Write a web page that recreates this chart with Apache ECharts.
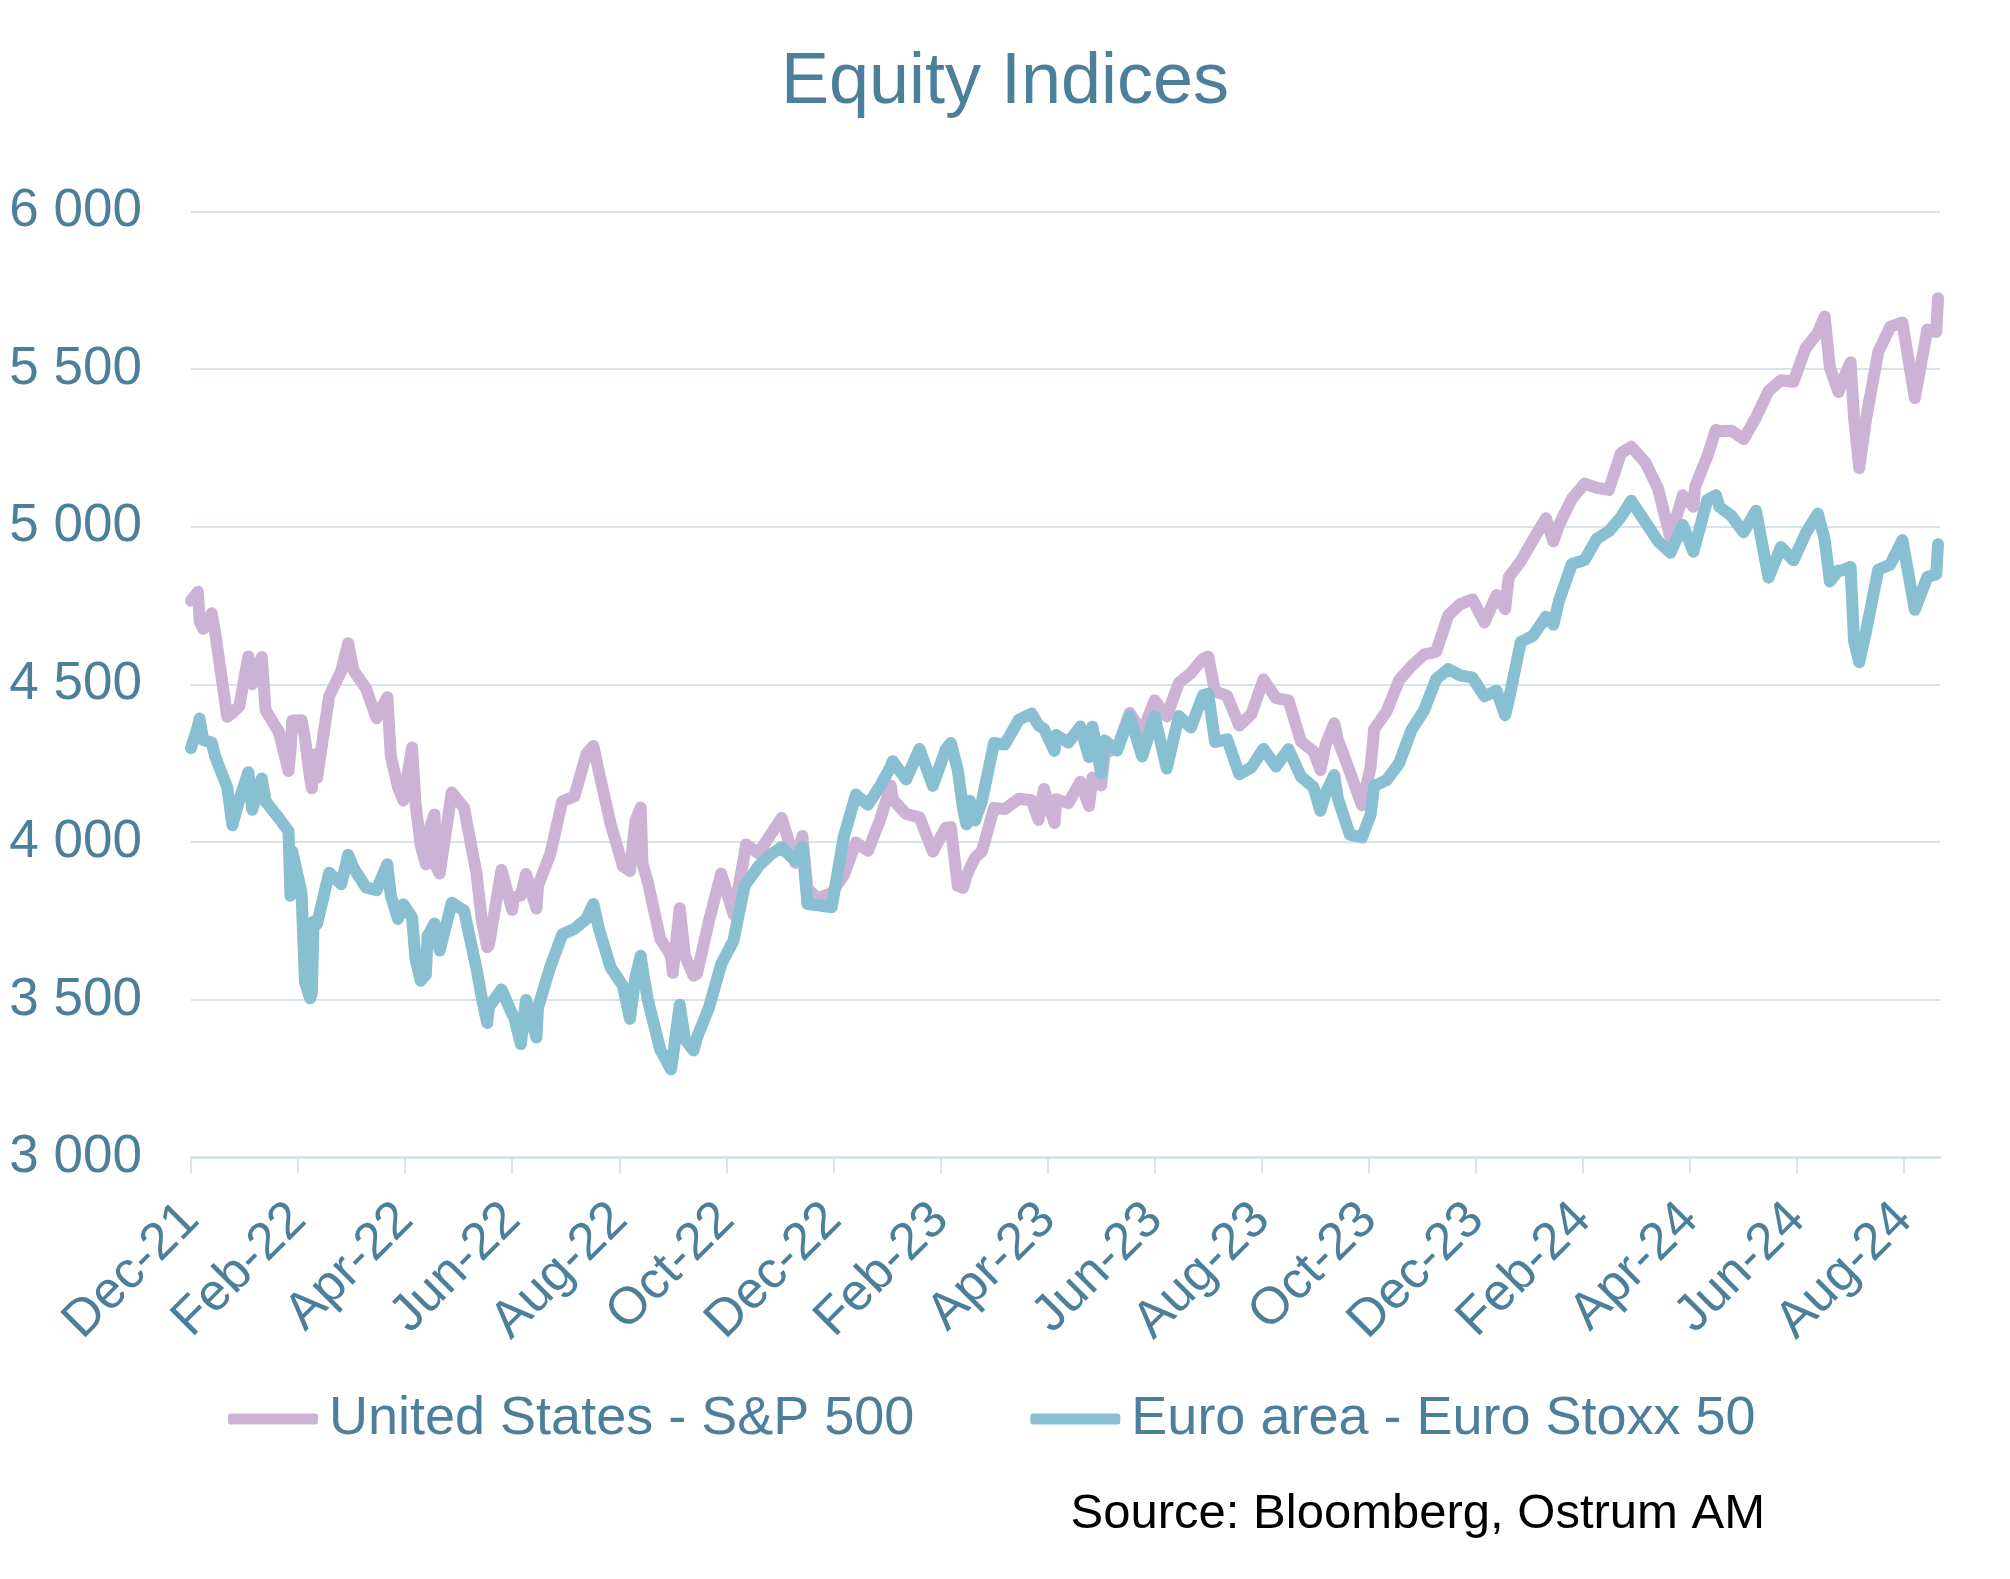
<!DOCTYPE html>
<html>
<head>
<meta charset="utf-8">
<script src="https://cdn.jsdelivr.net/npm/echarts@6/dist/echarts.min.js"></script>
<style>
html,body{margin:0;padding:0;background:#fff;}
#chart{width:2010px;height:1579px;}
</style>
</head>
<body>
<div id="chart"></div>
<script>
// ---- DATA ----
const dates = [
'2021-12-31','2022-01-04','2022-01-05','2022-01-07','2022-01-12','2022-01-14','2022-01-21','2022-01-24','2022-01-28',
'2022-02-02','2022-02-04','2022-02-09','2022-02-11','2022-02-18','2022-02-23','2022-02-24','2022-02-25',
'2022-03-02','2022-03-04','2022-03-07','2022-03-08','2022-03-09','2022-03-11','2022-03-18','2022-03-25','2022-03-29',
'2022-04-01','2022-04-08','2022-04-14','2022-04-20','2022-04-22','2022-04-26','2022-04-29',
'2022-05-04','2022-05-06','2022-05-09','2022-05-12','2022-05-13','2022-05-17','2022-05-18','2022-05-20','2022-05-27',
'2022-06-03','2022-06-10','2022-06-13','2022-06-16','2022-06-17','2022-06-24','2022-06-30',
'2022-07-01','2022-07-05','2022-07-08','2022-07-14','2022-07-15','2022-07-22','2022-07-29',
'2022-08-05','2022-08-12','2022-08-16','2022-08-19','2022-08-26',
'2022-09-02','2022-09-06','2022-09-09','2022-09-12','2022-09-13','2022-09-16','2022-09-23','2022-09-29','2022-09-30',
'2022-10-04','2022-10-07','2022-10-12','2022-10-14','2022-10-21','2022-10-28',
'2022-11-04','2022-11-10','2022-11-11','2022-11-18','2022-11-25',
'2022-12-01','2022-12-02','2022-12-09','2022-12-13','2022-12-16','2022-12-22','2022-12-30',
'2023-01-06','2023-01-13','2023-01-20','2023-01-27',
'2023-02-02','2023-02-03','2023-02-10','2023-02-17','2023-02-24',
'2023-03-03','2023-03-06','2023-03-10','2023-03-13','2023-03-15','2023-03-17','2023-03-20','2023-03-24','2023-03-31',
'2023-04-06','2023-04-14','2023-04-21','2023-04-25','2023-04-28',
'2023-05-04','2023-05-05','2023-05-12','2023-05-19','2023-05-24','2023-05-26','2023-05-31',
'2023-06-02','2023-06-09','2023-06-16','2023-06-23','2023-06-30',
'2023-07-07','2023-07-14','2023-07-21','2023-07-28','2023-07-31',
'2023-08-04','2023-08-11','2023-08-18','2023-08-25',
'2023-09-01','2023-09-08','2023-09-15','2023-09-22','2023-09-29',
'2023-10-03','2023-10-06','2023-10-11','2023-10-13','2023-10-20','2023-10-27',
'2023-11-01','2023-11-03','2023-11-10','2023-11-17','2023-11-24',
'2023-12-01','2023-12-08','2023-12-15','2023-12-22','2023-12-29',
'2024-01-05','2024-01-12','2024-01-17','2024-01-19','2024-01-26',
'2024-02-02','2024-02-09','2024-02-13','2024-02-16','2024-02-23',
'2024-03-01','2024-03-08','2024-03-15','2024-03-22','2024-03-28',
'2024-04-05','2024-04-12','2024-04-19','2024-04-26',
'2024-05-02','2024-05-03','2024-05-10','2024-05-15','2024-05-17','2024-05-24','2024-05-31',
'2024-06-07','2024-06-14','2024-06-21','2024-06-28',
'2024-07-05','2024-07-12','2024-07-16','2024-07-19','2024-07-24','2024-07-26','2024-07-31',
'2024-08-02','2024-08-05','2024-08-09','2024-08-16','2024-08-23','2024-08-30',
'2024-09-06','2024-09-13','2024-09-18','2024-09-19'
];

const sp500 = [
4766,4794,4700,4677,4726,4663,4398,4410,4432,
4589,4501,4587,4419,4349,4226,4288,4385,
4387,4329,4201,4171,4278,4204,4463,4543,4631,
4546,4488,4393,4460,4272,4175,4132,
4300,4123,3991,3930,4024,4088,3923,3901,4158,
4109,3901,3750,3667,3675,3912,3785,
3825,3831,3899,3790,3863,3962,4130,
4145,4280,4305,4228,4058,
3924,3909,4067,4110,3932,3873,3693,3640,3586,
3791,3640,3577,3583,3752,3901,
3771,3956,3993,3965,4026,
4077,4072,3934,4020,3852,3822,3840,
3895,3999,3973,4071,
4179,4136,4090,4079,3970,
4046,4048,3862,3855,3892,3917,3951,3971,4109,
4105,4138,4133,4071,4169,
4061,4136,4124,4192,4115,4205,4180,
4282,4299,4410,4348,4450,
4399,4505,4536,4582,4589,
4478,4464,4370,4406,
4516,4457,4450,4320,4288,
4229,4309,4377,4327,4224,4117,
4237,4358,4415,4514,4559,
4595,4604,4719,4755,4770,
4697,4784,4739,4840,4891,
4959,5027,4954,5006,5089,
5137,5124,5117,5234,5254,
5204,5123,4967,5100,
5064,5128,5223,5308,5303,5305,5278,
5347,5431,5465,5460,
5567,5615,5667,5505,5427,5459,5522,
5346,5186,5344,5554,5635,5648,
5408,5626,5618,5725
];

const stoxx50 = [
4298,4367,4392,4325,4316,4272,4174,4054,4136,
4222,4103,4202,4130,4076,4035,3830,3970,
3840,3556,3505,3522,3749,3741,3903,3867,3960,
3919,3857,3848,3930,3830,3757,3803,
3761,3630,3561,3580,3703,3742,3702,3657,3808,
3783,3599,3505,3427,3478,3533,3455,
3448,3360,3500,3381,3477,3604,3708,
3725,3757,3804,3730,3603,
3545,3440,3570,3640,3600,3500,3342,3280,3318,
3485,3375,3340,3381,3477,3613,
3688,3856,3868,3924,3962,
3984,3977,3942,3986,3804,3800,3794,
4017,4151,4119,4178,
4240,4257,4199,4296,4179,
4294,4315,4229,4109,4057,4131,4069,4130,4315,
4310,4389,4408,4370,4359,
4290,4340,4316,4367,4270,4366,4218,
4323,4291,4401,4272,4399,
4234,4400,4364,4466,4471,
4318,4326,4216,4237,
4296,4240,4295,4208,4175,
4100,4155,4213,4141,4024,4015,
4087,4178,4197,4250,4357,
4418,4517,4549,4529,4522,
4463,4480,4403,4449,4635,
4655,4715,4690,4765,4882,
4895,4962,4986,5031,5083,
5015,4955,4918,5006,
4921,4922,5085,5100,5064,5035,4983,
5051,4839,4936,4894,
4979,5042,4960,4827,4862,4862,4873,
4638,4571,4670,4864,4881,4958,
4737,4841,4850,4945
];

const tickLabels = ['Dec-21','Feb-22','Apr-22','Jun-22','Aug-22','Oct-22','Dec-22','Feb-23','Apr-23','Jun-23','Aug-23','Oct-23','Dec-23','Feb-24','Apr-24','Jun-24','Aug-24'];
const yTicks = [3000,3500,4000,4500,5000,5500,6000];
const seriesNames = ['United States - S&P 500','Euro area - Euro Stoxx 50'];

// ---- HELPERS ----
// position on x axis in months counted from the end of Dec-21
function monthPos(s){
  const [y,m,d] = s.split('-').map(Number);
  const dim = new Date(y, m, 0).getDate();
  return (y-2021)*12 + (m-12) - 1 + d/dim;
}
function fmtThousands(v){
  const k = Math.floor(v/1000), r = v % 1000;
  return k + ' ' + String(r).padStart(3,'0');
}
const xTickVals = tickLabels.map((_,i)=>i*2);
const spData = dates.map((d,i)=>[monthPos(d), sp500[i]]);
const esData = dates.map((d,i)=>[monthPos(d), stoxx50[i]]);

const TXT = '#4b7f9a';
const GRID = '#d6e4ea';
const FONT = 'Liberation Sans, Arial, sans-serif';

const chart = echarts.init(document.getElementById('chart'));
chart.setOption({
  backgroundColor:'#ffffff',
  animation:false,
  title:{
    text:'Equity Indices', left:'center', top:42,
    textStyle:{fontSize:72, fontWeight:'normal', color:TXT, fontFamily:FONT}
  },
  legend:{
    data:seriesNames, left:223, top:1387, icon:'roundRect',
    itemWidth:90, itemHeight:11, itemGap:116,
    textStyle:{fontSize:54, color:TXT, fontFamily:FONT, padding:[0,0,0,6]}
  },
  grid:{left:191, right:70, top:211.5, bottom:421.4, containLabel:false},
  xAxis:{
    type:'value', min:0, max:32.67, interval:2,
    axisLine:{show:true, lineStyle:{color:GRID, width:3}},
    axisTick:{show:true, length:16, lineStyle:{color:GRID, width:2}, customValues:xTickVals},
    axisLabel:{
      customValues:xTickVals, rotate:45, margin:54, fontSize:52, color:TXT, fontFamily:FONT,
      formatter:function(v){ const i=Math.round(v/2); return tickLabels[i]||''; }
    },
    splitLine:{show:false}
  },
  yAxis:{
    type:'value', min:yTicks[0], max:yTicks[yTicks.length-1], interval:500,
    axisLine:{show:false}, axisTick:{show:false},
    axisLabel:{margin:49, fontSize:53, color:TXT, fontFamily:FONT, formatter:fmtThousands},
    splitLine:{show:true, lineStyle:{color:GRID, width:2}}
  },
  series:[
    {name:seriesNames[0], type:'line', data:spData, showSymbol:false, symbol:'none',
     color:'#ccb3d5', itemStyle:{color:'#ccb3d5'},
     lineStyle:{color:'#ccb3d5', width:12, cap:'round', join:'round'}, z:2},
    {name:seriesNames[1], type:'line', data:esData, showSymbol:false, symbol:'none',
     color:'#88bfd1', itemStyle:{color:'#88bfd1'},
     lineStyle:{color:'#88bfd1', width:12, cap:'round', join:'round'}, z:3}
  ],
  graphic:[{
    type:'text', right:245, top:1490,
    style:{text:'Source: Bloomberg, Ostrum AM', fontSize:49, fill:'#000000', fontFamily:FONT}
  }]
});
</script>
</body>
</html>
